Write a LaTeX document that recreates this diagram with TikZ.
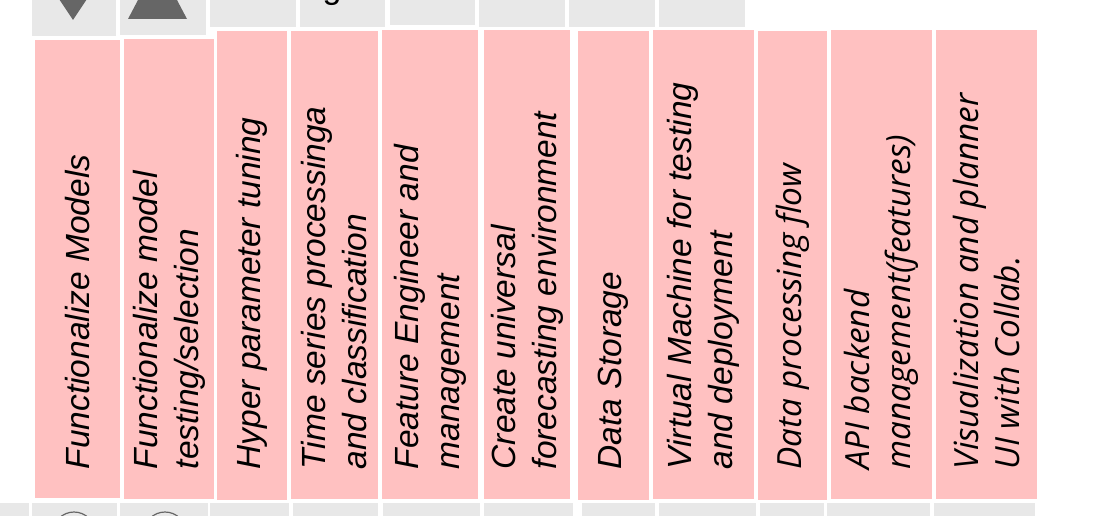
\documentclass[tikz,border=0pt]{standalone}
\usepackage{fontspec}
\setmainfont{Liberation Sans}
\newfontfamily\opensans{Open Sans}
\definecolor{pinkbox}{RGB}{255,193,193}
\definecolor{tabgray}{RGB}{232,232,232}
\definecolor{markgray}{RGB}{102,102,102}
\tikzset{
  colbox/.style={fill=pinkbox, draw=none, inner sep=0pt, outer sep=0pt, anchor=north west},
  tabbox/.style={fill=tabgray, draw=none},
  tasktext/.style={rotate=90, anchor=west, align=left, inner sep=0pt,
    font=\fontsize{33.5}{41}\selectfont\itshape},
  tasktextb/.style={tasktext, font=\opensans\fontsize{33.3}{41}\selectfont\itshape}
}
\begin{document}
\begin{tikzpicture}[x=1pt, y=-1pt]
\clip (0,0) rectangle (1119,516);

% tabs cut off at the top
\foreach \xa/\xb/\yb in {32/116/36, 120/206/35, 210/296/27, 300/385/27, 390/475/25, 479/565/27, 569/655/27, 659/745/27}
  \fill[tabbox] (\xa,-40) rectangle (\xb,\yb);
\fill[markgray] (53,-10) -- (93,-10) -- (73,20) -- cycle;
\fill[markgray] (128,19) -- (187,19) -- (157.5,-37) -- cycle;
\node[font=\fontsize{34}{40}\selectfont, anchor=base, inner sep=0pt] (gtop) at (332,-1) {g};

% tabs cut off at the bottom
\foreach \xa/\xb in {0/29, 32/117, 120/208, 210/289, 293/378, 383/480, 484/573, 582/655, 659/756, 760/824, 827/930, 934/1035}
  \fill[tabbox] (\xa,503) rectangle (\xb,540);
\draw[markgray, line width=1.2pt] (74,533) circle (21);
\draw[markgray, line width=1.2pt] (165,533) circle (21);

% task columns
\foreach \i/\xa/\xb/\yt/\yb/\sty/\txt in {
  1/35/120/40/498/tasktext/{Functionalize Models},
  2/124/214/39/499/tasktext/{Functionalize model\\testing/selection},
  3/217/287/31/500/tasktext/{Hyper parameter tuning},
  4/291/378/31/499/tasktext/{Time series processinga\\and classification},
  5/382/478/30/499/tasktext/{Feature Engineer and\\management},
  6/484/570/30/499/tasktext/{Create universal\\forecasting environment},
  7/578/649/31/500/tasktext/{Data Storage},
  8/653/754/30/499/tasktext/{Virtual Machine for testing\\and deployment},
  9/758/827/31/500/tasktextb/{Data processing flow},
  10/831/932/30/499/tasktextb/{API backend\\management(features)},
  11/936/1037/30/499/tasktextb/{Visualization and planner\\UI with Collab.}}
{
  \node[colbox, minimum width={(\xb-\xa)*1pt}, minimum height={(\yb-\yt)*1pt}] (c\i) at (\xa,\yt) {};
  \node[\sty] (t\i) at ({(\xa+\xb)/2},469.5) {\txt};
}
\end{tikzpicture}
\end{document}
